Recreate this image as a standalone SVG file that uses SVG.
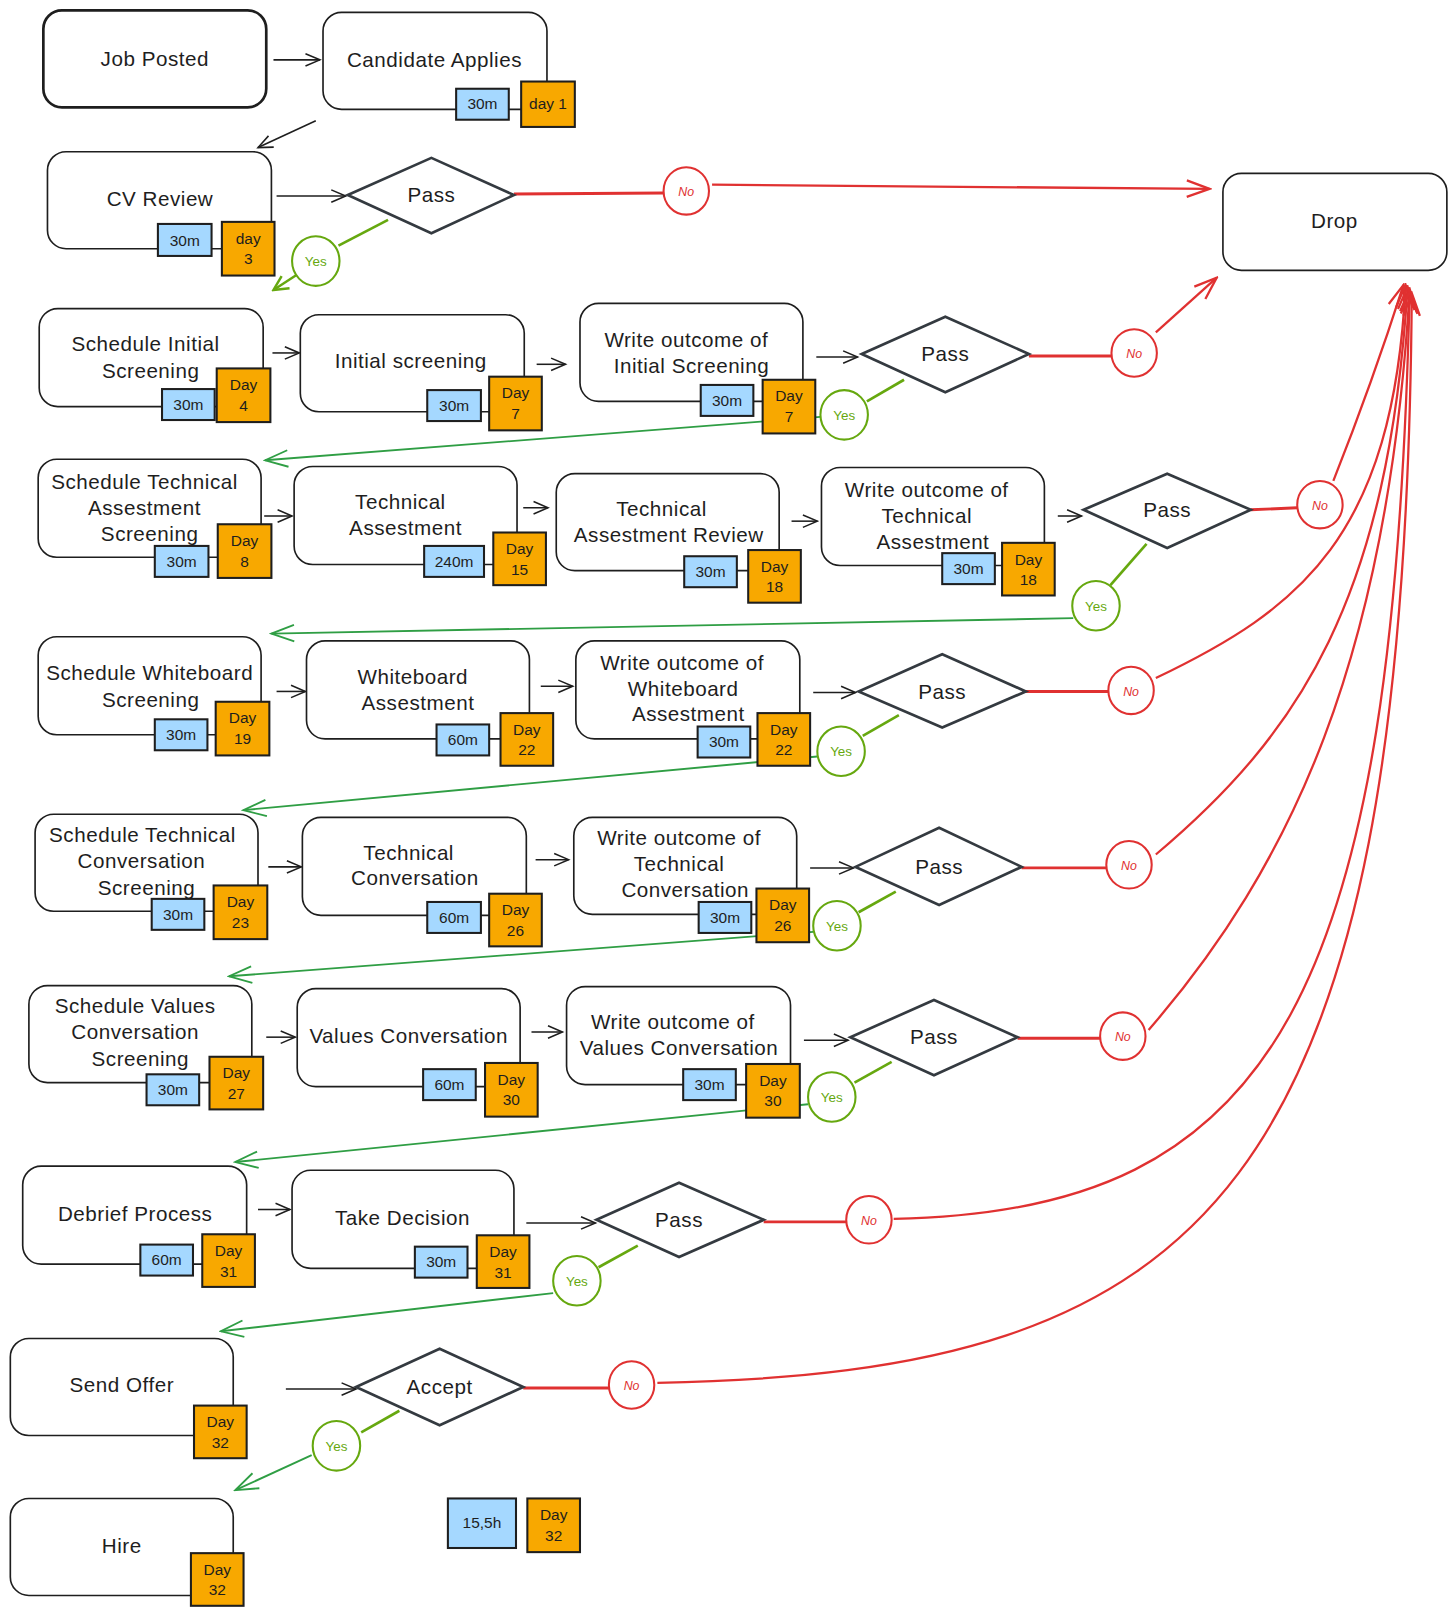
<svg xmlns="http://www.w3.org/2000/svg" width="1456" height="1617" viewBox="0 0 1456 1617">
<defs>
<style>
.box{fill:#fff;stroke:#1e1e1e;stroke-width:1.6}
.boxb{fill:#fff;stroke:#1e1e1e;stroke-width:2.6}
.dia{fill:#fff;stroke:#343a40;stroke-width:2.6;stroke-linejoin:miter}
.blue{fill:#a5d8ff;stroke:#1e1e1e;stroke-width:2}
.org{fill:#f8a800;stroke:#1e1e1e;stroke-width:2}
.t{font-family:"Liberation Sans",Arial,sans-serif;font-size:20px;letter-spacing:0.5px;fill:#1e1e1e;text-anchor:middle}
.s{font-family:"Liberation Sans",Arial,sans-serif;font-size:15px;fill:#1e1e1e;text-anchor:middle}
.no{fill:#fff;stroke:#e03131;stroke-width:2}
.yes{fill:#fff;stroke:#66a80f;stroke-width:2}
.nt{font-family:"Liberation Sans",Arial,sans-serif;font-size:12px;fill:#e03131;text-anchor:middle;font-style:italic}
.yt{font-family:"Liberation Sans",Arial,sans-serif;font-size:13px;fill:#66a80f;text-anchor:middle}
.ak{fill:none;stroke:#1e1e1e;stroke-width:1.5;marker-end:url(#mk)}
.ar{fill:none;stroke:#e03131;stroke-width:2.2;marker-end:url(#mr)}
.rl{fill:none;stroke:#e03131;stroke-width:2.8}
.gl{fill:none;stroke:#66a80f;stroke-width:2.6}
.ag{fill:none;stroke:#2f9e44;stroke-width:1.8;marker-end:url(#mg)}
.ag2{fill:none;stroke:#66a80f;stroke-width:2.4;marker-end:url(#mg2)}
</style>
<marker id="mk" viewBox="-16 -8 18 16" refX="0" refY="0" markerWidth="18" markerHeight="16" markerUnits="userSpaceOnUse" orient="auto"><path d="M-14,-6 L0,0 L-14,6" fill="none" stroke="#1e1e1e" stroke-width="1.5"/></marker>
<marker id="mr" viewBox="-26 -10 28 20" refX="0" refY="0" markerWidth="28" markerHeight="20" markerUnits="userSpaceOnUse" orient="auto"><path d="M-22,-8 L0,0 L-22,8" fill="none" stroke="#e03131" stroke-width="2.2"/></marker>
<marker id="mg" viewBox="-26 -10 28 20" refX="0" refY="0" markerWidth="28" markerHeight="20" markerUnits="userSpaceOnUse" orient="auto"><path d="M-22,-8 L0,0 L-22,8" fill="none" stroke="#2f9e44" stroke-width="1.8"/></marker>
<marker id="mg2" viewBox="-20 -10 22 20" refX="0" refY="0" markerWidth="22" markerHeight="20" markerUnits="userSpaceOnUse" orient="auto"><path d="M-14,-7 L0,0 L-14,7" fill="none" stroke="#66a80f" stroke-width="2.4"/></marker>
</defs>
<rect width="1456" height="1617" fill="#fff"/>
<g transform="scale(1.032)">
<g id="connectors">
<path class="ak" d="M265,58 L310,58"/>
<path class="ak" d="M306,117 L250,143"/>
<path class="ak" d="M268,190 L335,190"/>
<path class="ak" d="M264,342 L290,342"/>
<path class="ak" d="M520,353 L548,353"/>
<path class="ak" d="M791,346 L831,346"/>
<path class="ak" d="M256,500 L283,500"/>
<path class="ak" d="M507,492 L531,492"/>
<path class="ak" d="M767,505 L792,505"/>
<path class="ak" d="M1025,500 L1048,500"/>
<path class="ak" d="M268,670 L296,670"/>
<path class="ak" d="M524,665 L555,665"/>
<path class="ak" d="M788,671 L829,671"/>
<path class="ak" d="M260,840 L292,840"/>
<path class="ak" d="M519,833 L551,833"/>
<path class="ak" d="M785,841 L827,841"/>
<path class="ak" d="M258,1005 L286,1005"/>
<path class="ak" d="M515,1000 L545,1000"/>
<path class="ak" d="M779,1008 L822,1008"/>
<path class="ak" d="M250,1172 L281,1172"/>
<path class="ak" d="M510,1185 L577,1185"/>
<path class="ak" d="M277,1346 L345,1346"/>
<path class="rl" d="M498,188 L643,187"/>
<path class="rl" d="M997,345 L1077,345"/>
<path class="rl" d="M1212,494 L1257,492"/>
<path class="rl" d="M994,670 L1074,670"/>
<path class="rl" d="M990,841 L1072,841"/>
<path class="rl" d="M986,1006 L1066,1006"/>
<path class="rl" d="M740,1184 L820,1184"/>
<path class="rl" d="M507,1345 L590,1345"/>
<path class="ar" d="M690,179 L1172,183"/>
<path class="ar" d="M1120,322 L1179,269"/>
<path class="ar" d="M1292,466 Q1330,370 1360,276"/>
<path class="ar" d="M1120,657 C1260,590 1350,520 1362,276"/>
<path class="ar" d="M1120,828 C1260,710 1345,580 1364,278"/>
<path class="ar" d="M1113,998 C1250,840 1345,640 1366,280"/>
<path class="ar" d="M866,1181 C1240,1175 1350,960 1366,282"/>
<path class="ar" d="M637,1340 C1170,1330 1362,1160 1368,284"/>
<path class="gl" d="M376,213 L328,238"/>
<path class="gl" d="M876,368 L840,389"/>
<path class="gl" d="M1111,527 L1076,567"/>
<path class="gl" d="M871,693 L836,713"/>
<path class="gl" d="M868,864 L832,884"/>
<path class="gl" d="M864,1029 L828,1049"/>
<path class="gl" d="M618,1207 L580,1228"/>
<path class="gl" d="M387,1367 L350,1388"/>
<path class="ag2" d="M288,266 L265,281"/>
<path class="ag" d="M795,404 L257,446"/>
<path class="ag" d="M1040,599 L263,614"/>
<path class="ag" d="M792,733 L236,785"/>
<path class="ag" d="M788,903 L222,946"/>
<path class="ag" d="M783,1070 L228,1126"/>
<path class="ag" d="M536,1253 L214,1290"/>
<path class="ag" d="M302,1410 L228,1444"/>
</g>

<g id="job-posted"><rect class="boxb" x="42" y="10" width="216" height="94" rx="18"/><text class="t" x="150" y="64">Job Posted</text></g>
<g id="candidate-applies"><rect class="box" x="313" y="12" width="217" height="94" rx="18"/><text class="t" x="421" y="65">Candidate Applies</text>
<rect class="blue" x="442" y="86" width="51" height="30"/><text class="s" x="467.5" y="106">30m</text>
<rect class="org" x="505" y="79" width="52" height="44"/><text class="s" x="531" y="106">day 1</text></g>
<g id="cv-review"><rect class="box" x="46" y="147" width="217" height="94" rx="18"/><text class="t" x="155" y="200">CV Review</text>
<rect class="blue" x="153" y="217" width="52" height="31"/><text class="s" x="179" y="238">30m</text>
<rect class="org" x="215" y="215" width="51" height="52"/><text class="s" x="240.5" y="236">day</text><text class="s" x="240.5" y="256">3</text></g>
<g id="drop"><rect class="box" x="1185" y="168" width="217" height="94" rx="18"/><text class="t" x="1293" y="221">Drop</text></g>

<g id="schedule-initial-screening"><rect class="box" x="38" y="299" width="217" height="95" rx="18"/><text class="t" x="141" y="340">Schedule Initial</text><text class="t" x="146" y="366">Screening</text>
<rect class="blue" x="157" y="377" width="51" height="30"/><text class="s" x="182.5" y="397">30m</text>
<rect class="org" x="210" y="357" width="52" height="52"/><text class="s" x="236" y="378">Day</text><text class="s" x="236" y="398">4</text></g>
<g id="initial-screening"><rect class="box" x="291" y="305" width="217" height="94" rx="18"/><text class="t" x="398" y="357">Initial screening</text>
<rect class="blue" x="414" y="378" width="52" height="30"/><text class="s" x="440" y="398">30m</text>
<rect class="org" x="474" y="365" width="51" height="52"/><text class="s" x="499.5" y="386">Day</text><text class="s" x="499.5" y="406">7</text></g>
<g id="write-outcome-initial"><rect class="box" x="562" y="294" width="216" height="95" rx="18"/><text class="t" x="665" y="336">Write outcome of</text><text class="t" x="670" y="361">Initial Screening</text>
<rect class="blue" x="679" y="373" width="51" height="30"/><text class="s" x="704.5" y="393">30m</text>
<rect class="org" x="739" y="368" width="51" height="52"/><text class="s" x="764.5" y="389">Day</text><text class="s" x="764.5" y="409">7</text></g>

<g id="schedule-technical-assessment"><rect class="box" x="37" y="445" width="216" height="95" rx="18"/><text class="t" x="140" y="474">Schedule Technical</text><text class="t" x="140" y="499">Assestment</text><text class="t" x="145" y="524">Screening</text>
<rect class="blue" x="150" y="529" width="52" height="30"/><text class="s" x="176" y="549">30m</text>
<rect class="org" x="211" y="508" width="52" height="52"/><text class="s" x="237" y="529">Day</text><text class="s" x="237" y="549">8</text></g>
<g id="technical-assessment"><rect class="box" x="285" y="452" width="216" height="95" rx="18"/><text class="t" x="388" y="493">Technical</text><text class="t" x="393" y="518">Assestment</text>
<rect class="blue" x="411" y="529" width="58" height="30"/><text class="s" x="440" y="549">240m</text>
<rect class="org" x="478" y="516" width="51" height="51"/><text class="s" x="503.5" y="537">Day</text><text class="s" x="503.5" y="557">15</text></g>
<g id="technical-assessment-review"><rect class="box" x="539" y="459" width="216" height="94" rx="18"/><text class="t" x="641" y="500">Technical</text><text class="t" x="648" y="525">Assestment Review</text>
<rect class="blue" x="663" y="539" width="51" height="30"/><text class="s" x="688.5" y="559">30m</text>
<rect class="org" x="725" y="533" width="51" height="51"/><text class="s" x="750.5" y="554">Day</text><text class="s" x="750.5" y="574">18</text></g>
<g id="write-outcome-technical"><rect class="box" x="796" y="453" width="216" height="95" rx="18"/><text class="t" x="898" y="482">Write outcome of</text><text class="t" x="898" y="507">Technical</text><text class="t" x="904" y="532">Assestment</text>
<rect class="blue" x="913" y="536" width="51" height="30"/><text class="s" x="938.5" y="556">30m</text>
<rect class="org" x="971" y="526" width="51" height="51"/><text class="s" x="996.5" y="547">Day</text><text class="s" x="996.5" y="567">18</text></g>

<g id="schedule-whiteboard"><rect class="box" x="37" y="617" width="216" height="95" rx="18"/><text class="t" x="145" y="659">Schedule Whiteboard</text><text class="t" x="146" y="685">Screening</text>
<rect class="blue" x="150" y="697" width="51" height="30"/><text class="s" x="175.5" y="717">30m</text>
<rect class="org" x="209" y="680" width="52" height="52"/><text class="s" x="235" y="701">Day</text><text class="s" x="235" y="721">19</text></g>
<g id="whiteboard-assessment"><rect class="box" x="297" y="621" width="216" height="95" rx="18"/><text class="t" x="400" y="663">Whiteboard</text><text class="t" x="405" y="688">Assestment</text>
<rect class="blue" x="423" y="702" width="51" height="30"/><text class="s" x="448.5" y="722">60m</text>
<rect class="org" x="485" y="691" width="51" height="51"/><text class="s" x="510.5" y="712">Day</text><text class="s" x="510.5" y="732">22</text></g>
<g id="write-outcome-whiteboard"><rect class="box" x="558" y="621" width="217" height="95" rx="18"/><text class="t" x="661" y="649">Write outcome of</text><text class="t" x="662" y="674">Whiteboard</text><text class="t" x="667" y="699">Assestment</text>
<rect class="blue" x="676" y="704" width="51" height="30"/><text class="s" x="701.5" y="724">30m</text>
<rect class="org" x="734" y="691" width="51" height="51"/><text class="s" x="759.5" y="712">Day</text><text class="s" x="759.5" y="732">22</text></g>

<g id="schedule-technical-conversation"><rect class="box" x="34" y="789" width="216" height="94" rx="18"/><text class="t" x="138" y="816">Schedule Technical</text><text class="t" x="137" y="841">Conversation</text><text class="t" x="142" y="867">Screening</text>
<rect class="blue" x="147" y="871" width="51" height="30"/><text class="s" x="172.5" y="891">30m</text>
<rect class="org" x="207" y="858" width="52" height="52"/><text class="s" x="233" y="879">Day</text><text class="s" x="233" y="899">23</text></g>
<g id="technical-conversation"><rect class="box" x="293" y="792" width="217" height="95" rx="18"/><text class="t" x="396" y="833">Technical</text><text class="t" x="402" y="858">Conversation</text>
<rect class="blue" x="414" y="874" width="52" height="30"/><text class="s" x="440" y="894">60m</text>
<rect class="org" x="474" y="866" width="51" height="51"/><text class="s" x="499.5" y="887">Day</text><text class="s" x="499.5" y="907">26</text></g>
<g id="write-outcome-technical-conversation"><rect class="box" x="556" y="792" width="216" height="94" rx="18"/><text class="t" x="658" y="819">Write outcome of</text><text class="t" x="658" y="844">Technical</text><text class="t" x="664" y="869">Conversation</text>
<rect class="blue" x="677" y="874" width="51" height="30"/><text class="s" x="702.5" y="894">30m</text>
<rect class="org" x="733" y="861" width="51" height="52"/><text class="s" x="758.5" y="882">Day</text><text class="s" x="758.5" y="902">26</text></g>

<g id="schedule-values-conversation"><rect class="box" x="28" y="955" width="216" height="94" rx="18"/><text class="t" x="131" y="982">Schedule Values</text><text class="t" x="131" y="1007">Conversation</text><text class="t" x="136" y="1033">Screening</text>
<rect class="blue" x="142" y="1041" width="51" height="30"/><text class="s" x="167.5" y="1061">30m</text>
<rect class="org" x="203" y="1024" width="52" height="51"/><text class="s" x="229" y="1045">Day</text><text class="s" x="229" y="1065">27</text></g>
<g id="values-conversation"><rect class="box" x="288" y="958" width="216" height="95" rx="18"/><text class="t" x="396" y="1011">Values Conversation</text>
<rect class="blue" x="410" y="1036" width="51" height="30"/><text class="s" x="435.5" y="1056">60m</text>
<rect class="org" x="470" y="1030" width="51" height="52"/><text class="s" x="495.5" y="1051">Day</text><text class="s" x="495.5" y="1071">30</text></g>
<g id="write-outcome-values"><rect class="box" x="549" y="956" width="217" height="95" rx="18"/><text class="t" x="652" y="997">Write outcome of</text><text class="t" x="658" y="1022">Values Conversation</text>
<rect class="blue" x="662" y="1036" width="51" height="30"/><text class="s" x="687.5" y="1056">30m</text>
<rect class="org" x="723" y="1031" width="52" height="52"/><text class="s" x="749" y="1052">Day</text><text class="s" x="749" y="1072">30</text></g>

<g id="debrief-process"><rect class="box" x="22" y="1130" width="217" height="95" rx="18"/><text class="t" x="131" y="1183">Debrief Process</text>
<rect class="blue" x="136" y="1206" width="51" height="30"/><text class="s" x="161.5" y="1226">60m</text>
<rect class="org" x="196" y="1196" width="51" height="51"/><text class="s" x="221.5" y="1217">Day</text><text class="s" x="221.5" y="1237">31</text></g>
<g id="take-decision"><rect class="box" x="283" y="1134" width="215" height="95" rx="18"/><text class="t" x="390" y="1187">Take Decision</text>
<rect class="blue" x="402" y="1208" width="51" height="30"/><text class="s" x="427.5" y="1228">30m</text>
<rect class="org" x="462" y="1197" width="51" height="51"/><text class="s" x="487.5" y="1218">Day</text><text class="s" x="487.5" y="1238">31</text></g>

<g id="send-offer"><rect class="box" x="10" y="1297" width="216" height="94" rx="18"/><text class="t" x="118" y="1349">Send Offer</text>
<rect class="org" x="188" y="1362" width="51" height="51"/><text class="s" x="213.5" y="1383">Day</text><text class="s" x="213.5" y="1403">32</text></g>
<g id="hire"><rect class="box" x="10" y="1452" width="216" height="94" rx="18"/><text class="t" x="118" y="1505">Hire</text>
<rect class="org" x="185" y="1505" width="51" height="51"/><text class="s" x="210.5" y="1526">Day</text><text class="s" x="210.5" y="1546">32</text></g>
<g id="summary"><rect class="blue" x="434" y="1452" width="66" height="48"/><text class="s" x="467" y="1481">15,5h</text>
<rect class="org" x="511" y="1452" width="51" height="52"/><text class="s" x="536.5" y="1473">Day</text><text class="s" x="536.5" y="1493">32</text></g>

<g id="pass-1"><polygon class="dia" points="337,189 418,153 498,189 418,226"/><text class="t" x="418" y="196">Pass</text></g>
<g id="pass-2"><polygon class="dia" points="835,343 916,307 997,343 916,380"/><text class="t" x="916" y="350">Pass</text></g>
<g id="pass-3"><polygon class="dia" points="1050,494 1131,459 1212,494 1131,531"/><text class="t" x="1131" y="501">Pass</text></g>
<g id="pass-4"><polygon class="dia" points="832,670 913,634 994,670 913,705"/><text class="t" x="913" y="677">Pass</text></g>
<g id="pass-5"><polygon class="dia" points="829,840 910,802 990,840 910,877"/><text class="t" x="910" y="847">Pass</text></g>
<g id="pass-6"><polygon class="dia" points="824,1005 905,969 986,1005 905,1042"/><text class="t" x="905" y="1012">Pass</text></g>
<g id="pass-7"><polygon class="dia" points="578,1182 658,1146 740,1182 658,1218"/><text class="t" x="658" y="1189">Pass</text></g>
<g id="accept"><polygon class="dia" points="345,1344 426,1307 507,1344 426,1381"/><text class="t" x="426" y="1351">Accept</text></g>

<g id="no-1"><ellipse class="no" cx="665" cy="185" rx="22" ry="23"/><text class="nt" x="665" y="190">No</text></g>
<g id="no-2"><ellipse class="no" cx="1099" cy="342" rx="22" ry="23"/><text class="nt" x="1099" y="347">No</text></g>
<g id="no-3"><ellipse class="no" cx="1279" cy="489" rx="22" ry="23"/><text class="nt" x="1279" y="494">No</text></g>
<g id="no-4"><ellipse class="no" cx="1096" cy="669" rx="22" ry="23"/><text class="nt" x="1096" y="674">No</text></g>
<g id="no-5"><ellipse class="no" cx="1094" cy="838" rx="22" ry="23"/><text class="nt" x="1094" y="843">No</text></g>
<g id="no-6"><ellipse class="no" cx="1088" cy="1004" rx="22" ry="23"/><text class="nt" x="1088" y="1009">No</text></g>
<g id="no-7"><ellipse class="no" cx="842" cy="1182" rx="22" ry="23"/><text class="nt" x="842" y="1187">No</text></g>
<g id="no-8"><ellipse class="no" cx="612" cy="1342" rx="22" ry="23"/><text class="nt" x="612" y="1347">No</text></g>

<g id="yes-1"><ellipse class="yes" cx="306" cy="253" rx="23" ry="24"/><text class="yt" x="306" y="258">Yes</text></g>
<g id="yes-2"><ellipse class="yes" cx="818" cy="402" rx="23" ry="24"/><text class="yt" x="818" y="407">Yes</text></g>
<g id="yes-3"><ellipse class="yes" cx="1062" cy="587" rx="23" ry="24"/><text class="yt" x="1062" y="592">Yes</text></g>
<g id="yes-4"><ellipse class="yes" cx="815" cy="728" rx="23" ry="24"/><text class="yt" x="815" y="733">Yes</text></g>
<g id="yes-5"><ellipse class="yes" cx="811" cy="897" rx="23" ry="24"/><text class="yt" x="811" y="902">Yes</text></g>
<g id="yes-6"><ellipse class="yes" cx="806" cy="1063" rx="23" ry="24"/><text class="yt" x="806" y="1068">Yes</text></g>
<g id="yes-7"><ellipse class="yes" cx="559" cy="1241" rx="23" ry="24"/><text class="yt" x="559" y="1246">Yes</text></g>
<g id="yes-8"><ellipse class="yes" cx="326" cy="1401" rx="23" ry="24"/><text class="yt" x="326" y="1406">Yes</text></g>
</g>
</svg>
